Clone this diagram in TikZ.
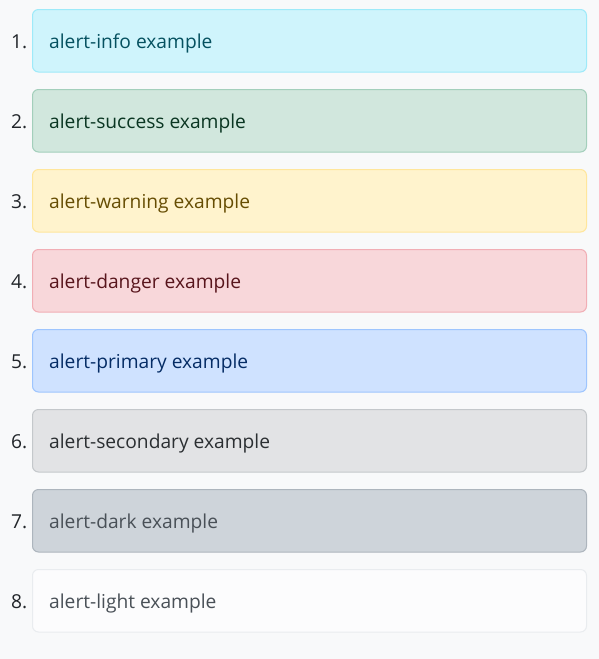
\documentclass[tikz,border=0pt]{standalone}
\usepackage{fontspec}
\setmainfont{Open Sans}
\definecolor{pagebg}{HTML}{F8F9FA}
\definecolor{numcol}{HTML}{212529}
\definecolor{infobg}{HTML}{CFF4FC}\definecolor{infobd}{HTML}{9EEAF9}\definecolor{infotx}{HTML}{055160}
\definecolor{succbg}{HTML}{D1E7DD}\definecolor{succbd}{HTML}{A3CFBB}\definecolor{succtx}{HTML}{0A3622}
\definecolor{warnbg}{HTML}{FFF3CD}\definecolor{warnbd}{HTML}{FFE69C}\definecolor{warntx}{HTML}{664D03}
\definecolor{dangbg}{HTML}{F8D7DA}\definecolor{dangbd}{HTML}{F1AEB5}\definecolor{dangtx}{HTML}{58151C}
\definecolor{primbg}{HTML}{CFE2FF}\definecolor{primbd}{HTML}{9EC5FE}\definecolor{primtx}{HTML}{052C65}
\definecolor{secbg}{HTML}{E2E3E5}\definecolor{secbd}{HTML}{C4C8CB}\definecolor{sectx}{HTML}{2B2F32}
\definecolor{darkbg}{HTML}{CED4DA}\definecolor{darkbd}{HTML}{ADB5BD}\definecolor{darktx}{HTML}{495057}
\definecolor{ligbg}{HTML}{FCFCFD}\definecolor{ligbd}{HTML}{E9ECEF}\definecolor{ligtx}{HTML}{495057}
\begin{document}
\begin{tikzpicture}[x=1pt,y=-1pt,
  alertbox/.style={draw, line width=1pt, rounded corners=6pt},
  alerttext/.style={anchor=base west, inner sep=0pt, font=\fontsize{19.2}{23}\selectfont},
  numtext/.style={anchor=base east, inner sep=0pt, text=numcol, font=\fontsize{19.2}{23}\selectfont}]
\fill[pagebg] (0,0) rectangle (599,659);
\useasboundingbox (0,0) rectangle (599,659);
\foreach \i/\c/\t in {1/info/alert-info example,2/succ/alert-success example,3/warn/alert-warning example,4/dang/alert-danger example,5/prim/alert-primary example,6/sec/alert-secondary example,7/dark/alert-dark example,8/lig/alert-light example}{
  \pgfmathsetmacro{\top}{9.5+80*(\i-1)}
  \draw[alertbox, fill=\c bg, draw=\c bd] (32.5,\top) rectangle (586.5,\top+62.5);
  \node[alerttext, text=\c tx] (t\i) at (49,\top+38.5) {\t};
  \node[numtext] (n\i) at (27.5,\top+38.5) {\i.};
}
\end{tikzpicture}
\end{document}
